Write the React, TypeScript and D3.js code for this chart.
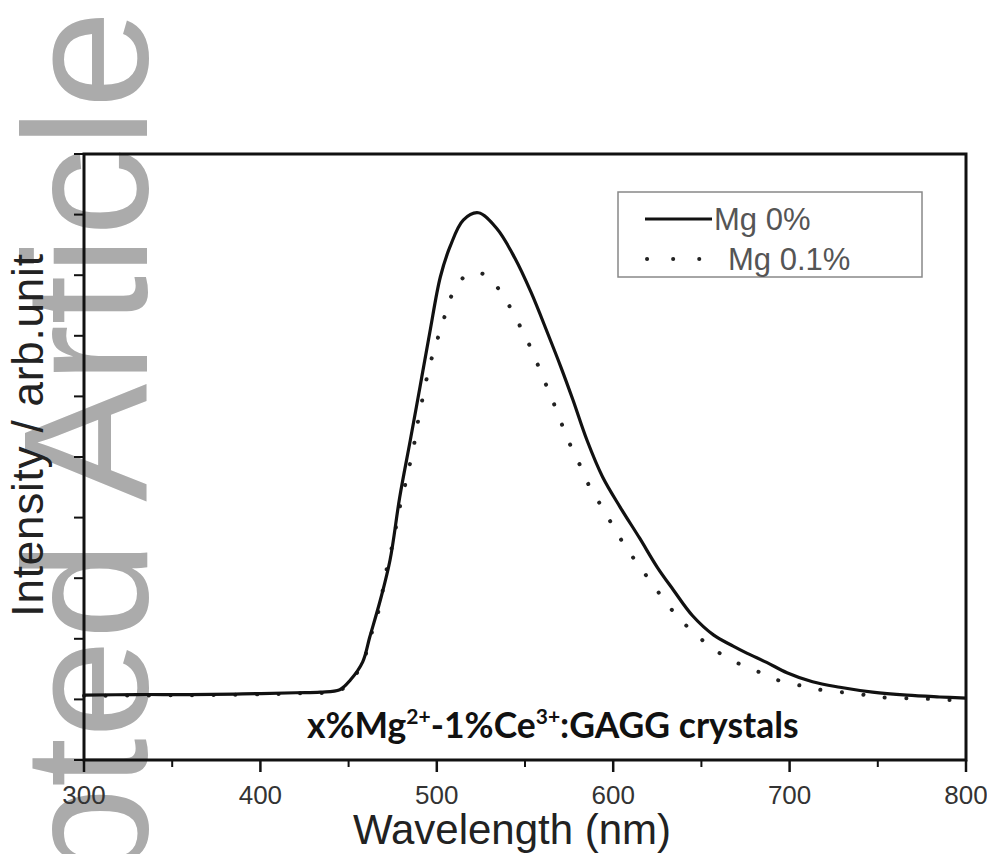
import React from "react";
import * as d3 from "d3";

// Emission spectra of x%Mg2+-1%Ce3+:GAGG crystals
const wavelengthMg0 = [
  300, 330, 360, 390, 420, 434, 445, 451, 458, 462, 468, 473.5, 479, 485, 490.5, 496, 502, 507.5,
  515, 523.5, 534, 544.3, 553.4, 563, 570.4, 577.2, 585.1, 594, 604, 615, 625, 634, 645, 657, 668,
  676, 687, 698.5, 713, 728.5, 747, 766.5, 785, 800,
];
const intensityMg0 = [
  0.107, 0.108, 0.108, 0.109, 0.111, 0.112, 0.116, 0.132, 0.162, 0.203, 0.264, 0.33, 0.434, 0.528,
  0.616, 0.705, 0.797, 0.847, 0.891, 0.903, 0.877, 0.828, 0.772, 0.703, 0.648, 0.594, 0.528, 0.467,
  0.417, 0.366, 0.318, 0.281, 0.238, 0.206, 0.188, 0.176, 0.161, 0.144, 0.129, 0.12, 0.112, 0.107,
  0.104, 0.102,
];

const wavelengthMg01 = [
  300, 360, 420, 445, 451, 458, 462, 466.7, 472.3, 475.7, 478, 483.1, 487.6, 489.9, 492.7, 495.6,
  499.5, 503.5, 508, 514.3, 520, 527.9, 534.1, 539.2, 543.2, 548.9, 554.5, 559.6, 564.2, 569.3,
  574.4, 580.6, 586.8, 593.7, 599.9, 606.1, 613.5, 621.4, 629.4, 637.3, 645.8, 656, 665.1, 675.9,
  685.5, 695.1, 707.6, 721.2, 737.1, 749.6, 764.3, 777.9, 791, 800,
];
const intensityMg01 = [
  0.106, 0.107, 0.11, 0.115, 0.13, 0.16, 0.2, 0.243, 0.325, 0.365, 0.404, 0.467, 0.528, 0.568,
  0.607, 0.647, 0.686, 0.723, 0.764, 0.794, 0.804, 0.8, 0.781, 0.759, 0.738, 0.706, 0.672, 0.635,
  0.604, 0.566, 0.528, 0.49, 0.45, 0.417, 0.386, 0.356, 0.325, 0.294, 0.262, 0.234, 0.21, 0.185,
  0.168, 0.153, 0.142, 0.13, 0.122, 0.114, 0.11, 0.104, 0.102, 0.101, 0.099, 0.099,
];

const xMajorTicks = [300, 400, 500, 600, 700, 800];
const xMinorTicks = [350, 450, 550, 650, 750];
const yTicks = [0, 0.1, 0.2, 0.3, 0.4, 0.5, 0.6, 0.7, 0.8, 0.9, 1.0];

const seriesNames = ["Mg 0%", "Mg 0.1%"];

const W = 987;
const H = 854;
const plot = { left: 84, right: 966, top: 154, bottom: 760 };

export default function App() {
  const x = d3.scaleLinear().domain([300, 800]).range([plot.left, plot.right]);
  const y = d3.scaleLinear().domain([0, 1]).range([plot.bottom, plot.top]);

  const line = d3
    .line<[number, number]>()
    .x((d) => x(d[0]))
    .y((d) => y(d[1]))
    .curve(d3.curveCatmullRom.alpha(0.5));

  const solid = line(wavelengthMg0.map((w, i) => [w, intensityMg0[i]]) as [number, number][]) || "";
  const dotted = line(wavelengthMg01.map((w, i) => [w, intensityMg01[i]]) as [number, number][]) || "";

  const sans = "'Liberation Sans', Arial, Helvetica, sans-serif";

  return (
    <svg
      width={W}
      height={H}
      viewBox={`0 0 ${W} ${H}`}
      style={{ position: "absolute", left: 0, top: 0, background: "#fff" }}
    >
      <rect x={0} y={0} width={W} height={H} fill="#fff" />

      {/* journal watermark running up the left edge */}
      <text
        transform="translate(147,10) rotate(-90)"
        textAnchor="end"
        fontFamily={sans}
        fontSize={177}
        fill="#ababab"
      >
        Accepted Article
      </text>

      {/* y axis title */}
      <text
        transform={`translate(43,${435}) rotate(-90)`}
        textAnchor="middle"
        fontFamily={sans}
        fontSize={44}
        letterSpacing={0.8}
        fill="#222"
      >
        Intensity / arb.unit
      </text>

      {/* spectra */}
      <path
        d={dotted}
        fill="none"
        stroke="#222"
        strokeWidth={4}
        strokeLinecap="round"
        strokeDasharray="0.1 21.5"
      />
      <path d={solid} fill="none" stroke="#111" strokeWidth={3.2} strokeLinejoin="round" />

      {/* frame */}
      <rect
        x={plot.left}
        y={plot.top}
        width={plot.right - plot.left}
        height={plot.bottom - plot.top}
        fill="none"
        stroke="#111"
        strokeWidth={3}
      />

      {/* y ticks */}
      {yTicks.map((t) => (
        <line
          key={`y${t}`}
          x1={plot.left - 10}
          x2={plot.left}
          y1={y(t)}
          y2={y(t)}
          stroke="#111"
          strokeWidth={2}
        />
      ))}

      {/* x ticks */}
      {xMajorTicks.map((t) => (
        <line
          key={`xM${t}`}
          x1={x(t)}
          x2={x(t)}
          y1={plot.bottom}
          y2={plot.bottom + 12}
          stroke="#111"
          strokeWidth={2.5}
        />
      ))}
      {xMinorTicks.map((t) => (
        <line
          key={`xm${t}`}
          x1={x(t)}
          x2={x(t)}
          y1={plot.bottom}
          y2={plot.bottom + 7}
          stroke="#111"
          strokeWidth={2}
        />
      ))}
      {xMajorTicks.map((t) => (
        <text
          key={`xl${t}`}
          x={x(t)}
          y={804}
          textAnchor="middle"
          fontFamily={sans}
          fontSize={26}
          fill="#333"
        >
          {d3.format("d")(t)}
        </text>
      ))}

      {/* x axis title */}
      <text x={512} y={844} textAnchor="middle" fontFamily={sans} fontSize={42} fill="#222">
        Wavelength (nm)
      </text>

      {/* sample annotation */}
      <text
        x={307}
        y={738}
        fontFamily="Lato, 'Open Sans', sans-serif"
        fontWeight="bold"
        fontSize={35.5}
        fill="#111"
      >
        x%Mg
        <tspan dy={-14} fontSize={21}>2+</tspan>
        <tspan dy={14}>-1%Ce</tspan>
        <tspan dy={-14} fontSize={21}>3+</tspan>
        <tspan dy={14}>:GAGG crystals</tspan>
      </text>

      {/* legend */}
      <rect x={618} y={192} width={304} height={85} fill="#fff" stroke="#888" strokeWidth={1.5} />
      <line x1={645} x2={712} y1={219} y2={219} stroke="#111" strokeWidth={3.2} />
      <line
        x1={647}
        x2={700}
        y1={259}
        y2={259}
        stroke="#222"
        strokeWidth={4}
        strokeLinecap="round"
        strokeDasharray="0.1 26"
      />
      <text x={714} y={230} fontFamily={sans} fontSize={31} fill="#555">
        {seriesNames[0]}
      </text>
      <text x={728} y={270} fontFamily={sans} fontSize={31} fill="#555">
        {seriesNames[1]}
      </text>
    </svg>
  );
}
